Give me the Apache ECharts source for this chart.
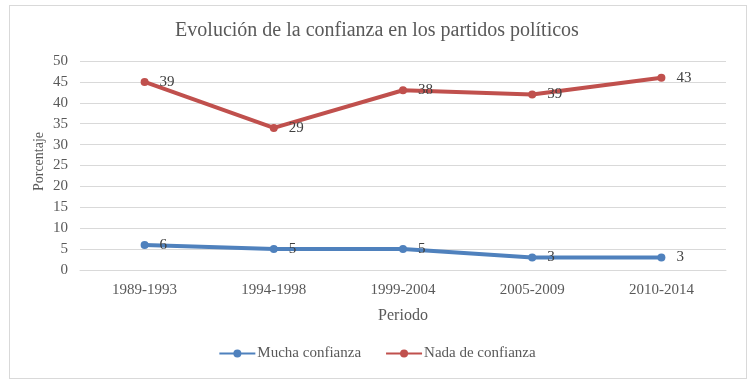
<!DOCTYPE html>
<html><head><meta charset="utf-8">
<script src="https://cdn.jsdelivr.net/npm/echarts@6/dist/echarts.min.js"></script>
<style>html,body{margin:0;padding:0;background:#fff}#c{width:754px;height:386px}
#b{position:absolute;left:9px;top:5px;width:736px;height:372px;border:1px solid #d9d9d9;pointer-events:none}</style>
</head><body><div id="c"></div><div id="b"></div>
<script>
const categories = ['1989-1993','1994-1998','1999-2004','2005-2009','2010-2014'];
const muchaValues = [6, 5, 5, 3, 3];
const muchaLabels = ['6','5','5','3','3'];
const nadaValues = [45, 34, 43, 42, 46];
const nadaLabels = ['39','29','38','39','43'];
const yTicks = [0,5,10,15,20,25,30,35,40,45,50];

const font = '"Liberation Serif", "Times New Roman", serif';
const chart = echarts.init(document.getElementById('c'));
function lbl(arr){
  return {show:true, position:'right', distance:11, color:'#404040', fontFamily:font, fontSize:15,
    formatter: p => arr[p.dataIndex]};
}
chart.setOption({
  animation:false,
  textStyle:{fontFamily:font},
  title:{text:'Evolución de la confianza en los partidos políticos', left:'center', top:16,
    textStyle:{fontFamily:font, fontWeight:'normal', fontSize:20, color:'#595959'}},
  grid:{left:80, right:28, top:61, bottom:116},
  legend:{bottom:20, left:'center', itemGap:24, itemWidth:36, itemHeight:10,
    textStyle:{fontFamily:font, fontSize:15, color:'#595959', padding:[0,0,0,-3]},
    data:['Mucha confianza','Nada de confianza']},
  xAxis:{type:'category', data:categories, boundaryGap:true,
    name:'Periodo', nameLocation:'middle', nameGap:38,
    nameTextStyle:{fontFamily:font, fontSize:16, color:'#595959'},
    axisLine:{show:true, lineStyle:{color:'#d9d9d9'}}, axisTick:{show:false},
    axisLabel:{fontFamily:font, fontSize:15, color:'#595959', margin:13}},
  yAxis:{type:'value', min:yTicks[0], max:yTicks[yTicks.length-1], interval:5,
    name:'Porcentaje', nameLocation:'middle', nameGap:34, nameRotate:90, nameMoveOverlap:false,
    nameTextStyle:{fontFamily:font, fontSize:14, color:'#595959', padding:[0,0,0,8]},
    axisLine:{show:false}, axisTick:{show:false},
    axisLabel:{fontFamily:font, fontSize:15, color:'#595959', margin:12},
    splitLine:{lineStyle:{color:'#d9d9d9'}}},
  series:[
    {name:'Mucha confianza', type:'line', data:muchaValues, symbol:'circle', symbolSize:8,
     itemStyle:{color:'#4F81BD'}, lineStyle:{width:4, color:'#4F81BD'}, label:lbl(muchaLabels)},
    {name:'Nada de confianza', type:'line', data:nadaValues, symbol:'circle', symbolSize:8,
     itemStyle:{color:'#C0504D'}, lineStyle:{width:4, color:'#C0504D'}, label:lbl(nadaLabels)}
  ]
});
</script></body></html>
